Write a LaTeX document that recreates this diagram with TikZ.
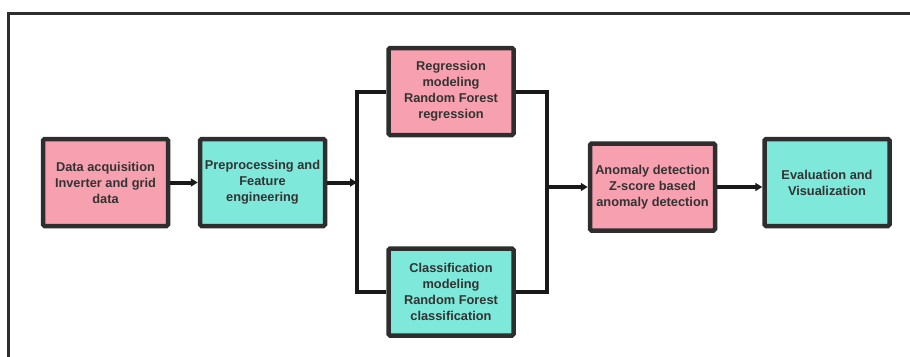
\documentclass[tikz,border=0pt]{standalone}
\usepackage{fontspec}
\setmainfont{Liberation Sans}
\usetikzlibrary{arrows.meta}
\definecolor{edgec}{HTML}{2E2E2E}
\definecolor{pinkc}{HTML}{F7A1B0}
\definecolor{tealc}{HTML}{7EE8DA}
\definecolor{txtc}{HTML}{333333}
\tikzset{
  boxbase/.style={draw=edgec, line width=4.5pt, rounded corners=1.5pt, minimum width=125pt, minimum height=87pt,
    align=center, inner sep=2pt, font=\bfseries\fontsize{12.8}{16}\selectfont, text=txtc},
  pinkbox/.style={boxbase, fill=pinkc},
  tealbox/.style={boxbase, fill=tealc},
  conn/.style={draw=black!90, line width=4pt},
  arr/.style={conn, -{Triangle[length=7pt,width=8pt]}},
  frameline/.style={draw=edgec, line width=3pt}
}
\begin{document}
\begin{tikzpicture}[x=1pt,y=-1pt]
\useasboundingbox (0,0) rectangle (910,356);
\coordinate (fa) at (8,360);
\coordinate (fb) at (8,13);
\coordinate (fc) at (914,13);
\draw[frameline] (fa) -- (fb) -- (fc);
\node[pinkbox] (acq) at (105.5,182.5) {Data acquisition\\Inverter and grid\\data};
\node[tealbox] (pre) at (262.5,182.5) {Preprocessing and\\Feature\\engineering};
\node[pinkbox] (reg) at (451,91.5) {Regression\\modeling\\Random Forest\\regression};
\node[tealbox] (clf) at (451,292) {Classification\\modeling\\Random Forest\\classification};
\node[pinkbox] (ano) at (652.5,187) {Anomaly detection\\Z-score based\\anomaly detection};
\node[tealbox] (eva) at (827,182.5) {Evaluation and\\Visualization};
\coordinate (jl) at (357,182.5);
\coordinate (jr) at (547,187);
\draw[arr] (acq) -- (pre);
\draw[arr] (pre) -- (jl);
\draw[conn, line join=miter] (reg.west) -| (jl) |- (clf.west);
\draw[conn, line join=miter] (reg.east) -| (jr) |- (clf.east);
\draw[arr] (jr) -- (ano.west);
\draw[arr] (ano.east) -- (ano.east -| eva.west);
\end{tikzpicture}
\end{document}
